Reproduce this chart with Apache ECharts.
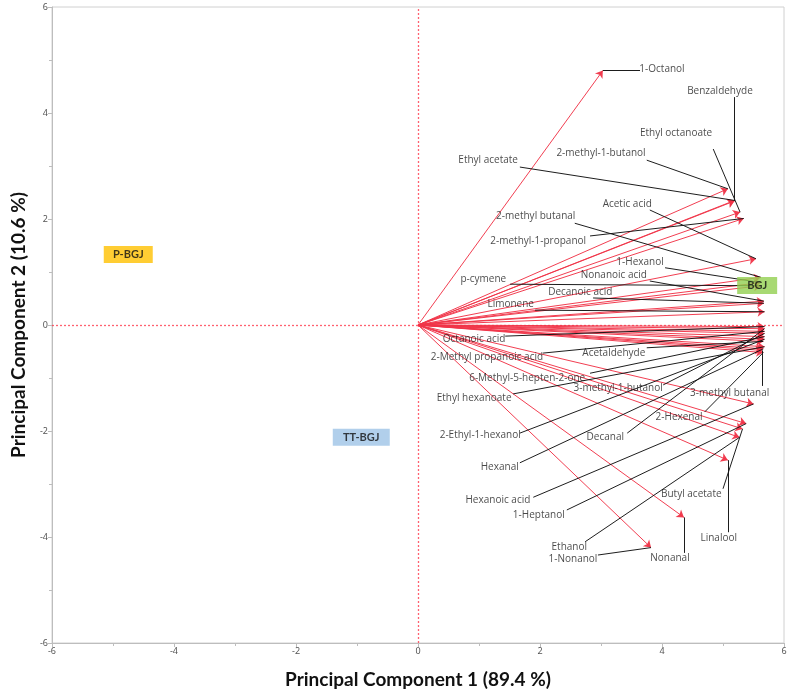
<!DOCTYPE html>
<html>
<head>
<meta charset="utf-8">
<script src="https://cdn.jsdelivr.net/npm/echarts@6/dist/echarts.min.js"></script>
<style>html,body{margin:0;padding:0;background:#fff}#c{width:789px;height:693px}</style>
</head>
<body>
<div id="c"></div>
<script>
// Variable loadings (PC1, PC2)
const varNames = ['1-Octanol','Benzaldehyde','Ethyl octanoate','2-methyl-1-butanol','Ethyl acetate','Acetic acid','2-methyl butanal','2-methyl-1-propanol','1-Hexanol','p-cymene','Nonanoic acid','Decanoic acid','Limonene','Octanoic acid','2-Methyl propanoic acid','Acetaldehyde','6-Methyl-5-hepten-2-one','3-methyl-1-butanol','Ethyl hexanoate','3-methyl butanal','2-Hexenal','2-Ethyl-1-hexanol','Decanal','Hexanal','Hexanoic acid','Butyl acetate','1-Heptanol','Linalool','Ethanol','1-Nonanol','Nonanal'];
const pc1 = [3.03,5.19,5.28,5.08,5.19,5.54,5.62,5.34,5.62,5.62,5.67,5.67,5.68,5.68,5.68,5.66,5.68,5.68,5.68,5.64,5.66,5.68,5.68,5.66,5.50,5.32,5.38,5.08,5.27,3.82,4.36];
const pc2 = [4.80,2.34,2.13,2.57,2.35,1.25,0.90,2.01,0.80,0.74,0.45,0.41,0.25,-0.03,-0.12,-0.31,-0.22,-0.16,-0.41,-0.48,-0.52,-0.27,-0.07,-0.45,-1.49,-1.96,-1.86,-2.55,-2.12,-4.20,-3.63];
// Label text centres (data units)
const labelX = [4.00,4.95,4.23,3.00,1.15,3.43,1.93,1.97,3.64,1.07,3.21,2.66,1.52,0.92,1.13,3.21,1.79,3.28,0.92,5.11,4.28,1.02,3.07,1.34,1.31,4.48,1.98,4.93,2.48,2.54,4.13];
const labelY = [4.83,4.42,3.62,3.25,3.11,2.28,2.06,1.58,1.19,0.87,0.94,0.62,0.40,-0.26,-0.60,-0.53,-1.00,-1.19,-1.38,-1.28,-1.74,-2.08,-2.11,-2.68,-3.30,-3.19,-3.58,-4.02,-4.19,-4.42,-4.40];
// Leader line start points (data units)
const leaderX = [3.64,5.19,4.84,3.75,1.67,3.80,2.57,2.82,4.05,1.51,3.80,2.87,1.92,1.43,2.05,3.75,2.82,4.02,1.56,5.64,4.70,1.67,3.43,1.67,1.89,5.00,2.44,5.08,2.74,2.95,4.36];
const leaderY = [4.80,4.30,3.32,3.11,2.98,2.17,1.92,1.68,1.08,0.77,0.83,0.51,0.28,-0.21,-0.53,-0.43,-0.91,-1.13,-1.30,-1.15,-1.64,-2.04,-2.04,-2.60,-3.25,-3.09,-3.49,-3.91,-4.09,-4.34,-4.30];
// Sample groups
const groupNames = ['P-BGJ','BGJ','TT-BGJ'];
const groupX = [-4.75,5.56,-0.93];
const groupY = [1.33,0.745,-2.12];
// Axis ticks
const axisMin = -6, axisMax = 6, axisStep = 2;

const groupColors = ['#FFC000','#92D050','#9DC3E6'];
const groupSizes = [[49,17],[40,17],[57,17]];

const chart = echarts.init(document.getElementById('c'));
const axisCommon = {
  min: axisMin, max: axisMax, interval: axisStep,
  axisLine: {onZero:false, lineStyle:{color:'#bdbdbd', width:1}},
  axisTick: {show:true, length:4, lineStyle:{color:'#bdbdbd'}},
  minorTick: {show:true, splitNumber:2, length:3, lineStyle:{color:'#bdbdbd'}},
  splitLine: {show:false},
  axisLabel: {color:'#555', fontSize:9, fontFamily:'Noto Sans', margin:4},
  nameLocation: 'middle',
  nameTextStyle: {fontFamily:'Lato', fontWeight:'bold', fontSize:19, color:'#111'}
};
chart.setOption({
  animation: false,
  grid: {left:52, right:5, top:7, bottom:50, show:true, borderColor:'#d0d0d0', borderWidth:1, outerBoundsMode:'none'},
  xAxis: Object.assign({}, axisCommon, {type:'value', name:'Principal Component 1 (89.4 %)', nameGap:27}),
  yAxis: Object.assign({}, axisCommon, {type:'value', name:'Principal Component 2 (10.6 %)', nameGap:24}),
  series: [
    {
      type:'lines', coordinateSystem:'cartesian2d', silent:true, z:1,
      symbol:['none','none'],
      lineStyle:{color:'#ff3a4c', type:[2,2], width:1.3, opacity:0.8},
      data:[{coords:[[axisMin,0],[axisMax,0]]},{coords:[[0,axisMin],[0,axisMax]]}]
    },
    {
      type:'lines', coordinateSystem:'cartesian2d', silent:true, z:3,
      symbol:['none','arrow'], symbolSize:7,
      lineStyle:{color:'#f03448', width:1, opacity:0.95},
      data: varNames.map((n,i)=>({coords:[[0,0],[pc1[i],pc2[i]]]}))
    },
    {
      type:'lines', coordinateSystem:'cartesian2d', silent:true, z:4,
      symbol:['none','none'],
      lineStyle:{color:'#111', width:1, opacity:0.95},
      data: varNames.map((n,i)=>({coords:[[leaderX[i],leaderY[i]],[pc1[i],pc2[i]]]}))
    },
    {
      type:'scatter', silent:true, z:5, symbolSize:1, itemStyle:{color:'rgba(0,0,0,0)'},
      label:{show:true, position:'inside', align:'center', verticalAlign:'middle',
        formatter:p=>p.name, fontSize:10, fontFamily:'Open Sans', color:'#1a1a1a'},
      data: varNames.map((n,i)=>({name:n, value:[labelX[i],labelY[i]]}))
    },
    {
      type:'scatter', silent:true, z:10, symbol:'rect',
      label:{show:true, position:'inside', formatter:p=>p.name, fontSize:11, fontWeight:'bold', fontFamily:'Lato', color:'#111'},
      data: groupNames.map((n,i)=>({name:n, value:[groupX[i],groupY[i]], symbolSize:groupSizes[i], itemStyle:{color:groupColors[i]}}))
    }
  ]
});
</script>
</body>
</html>
